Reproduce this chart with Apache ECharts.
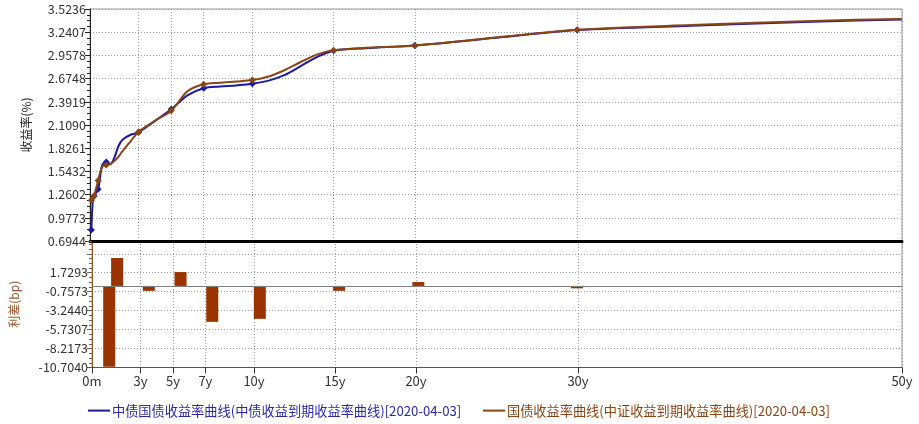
<!DOCTYPE html>
<html>
<head>
<meta charset="utf-8">
<script src="https://cdn.jsdelivr.net/npm/echarts@6/dist/echarts.min.js"></script>
<style>
html,body{margin:0;padding:0;background:#fff;}
#chart{width:919px;height:424px;}
</style>
</head>
<body>
<div id="chart"></div>
<script>
// ---- data ----
const blueName = '中债国债收益率曲线(中债收益到期收益率曲线)[2020-04-03]';
const brownName = '国债收益率曲线(中证收益到期收益率曲线)[2020-04-03]';
const maturities  = [0.083, 0.167, 0.25, 0.5, 0.75, 1, 1.25, 1.5, 1.75, 2, 2.5, 3, 4, 5, 6, 7, 8, 9, 10, 11, 12, 13, 14, 15, 17, 20, 25, 30, 37, 45, 50];
const blueYields  = [0.83, 1.17, 1.24, 1.325, 1.62, 1.657, 1.635, 1.71, 1.85, 1.93, 1.99, 2.020, 2.16, 2.300, 2.47, 2.557, 2.578, 2.592, 2.612, 2.65, 2.72, 2.83, 2.94, 3.015, 3.046, 3.080, 3.172, 3.267, 3.320, 3.372, 3.396];
const brownYields = [1.19, 1.22, 1.245, 1.432, 1.60, 1.621, 1.63, 1.67, 1.72, 1.79, 1.91, 2.028, 2.16, 2.282, 2.52, 2.605, 2.625, 2.640, 2.657, 2.70, 2.78, 2.88, 2.97, 3.022, 3.050, 3.076, 3.176, 3.270, 3.328, 3.381, 3.402];
const markerMaturities = [0.083, 0.25, 0.5, 1, 3, 5, 7, 10, 15, 20, 30];
const spreadMaturities = [0.5, 1, 3, 5, 7, 10, 15, 20, 30];
const spreadValues     = [-10.6, 3.66, -0.64, 1.82, -4.71, -4.32, -0.64, 0.51, -0.32];
const xTickValues = [0, 3, 5, 7, 10, 15, 20, 30, 50];
const xTickLabels = ['0m', '3y', '5y', '7y', '10y', '15y', '20y', '30y', '50y'];
const yieldTickLabels  = ['0.6944', '0.9773', '1.2602', '1.5432', '1.8261', '2.1090', '2.3919', '2.6748', '2.9578', '3.2407', '3.5236'];
const spreadTickLabels = ['-10.7040', '-8.2173', '-5.7307', '-3.2440', '-0.7573', '1.7293', ''];
const spreadMax = 5.895;

// ---- derived ----
const FONT = 'Noto Sans CJK SC';
const yMin = parseFloat(yieldTickLabels[0]);
const yMax = parseFloat(yieldTickLabels[yieldTickLabels.length - 1]);
const yInt = (yMax - yMin) / (yieldTickLabels.length - 1);
const sMin = parseFloat(spreadTickLabels[0]);
const sInt = (parseFloat(spreadTickLabels[5]) - sMin) / 5;

function lineData(ys) {
  return maturities.map((t, i) => ({
    value: [t, ys[i]],
    symbol: markerMaturities.indexOf(t) >= 0 ? 'diamond' : 'none'
  }));
}
function xLabel(v) {
  const i = xTickValues.indexOf(v);
  return i >= 0 ? xTickLabels[i] : '';
}
const dotted = { show: true, lineStyle: { color: '#9a9a9a', type: [1, 2], width: 1 } };

const chart = echarts.init(document.getElementById('chart'), null, { renderer: 'canvas' });
chart.setOption({
  animation: false,
  backgroundColor: '#ffffff',
  textStyle: { fontFamily: FONT },
  grid: [
    { left: 90, right: 17, top: 9, height: 232, show: true, borderColor: '#9a9a9a', borderWidth: 1, containLabel: false },
    { left: 90, right: 17, top: 241, height: 126.5, show: true, borderColor: '#9a9a9a', borderWidth: 1, containLabel: false }
  ],
  legend: [
    { left: 83, top: 399, icon: 'rect', itemWidth: 22, itemHeight: 2, itemGap: 0,
      textStyle: { fontFamily: FONT, fontSize: 13.2, color: '#2a2aa8', padding: [0, 0, 0, -3] },
      data: [{ name: blueName }] },
    { left: 478, top: 399, icon: 'rect', itemWidth: 22, itemHeight: 2, itemGap: 0,
      textStyle: { fontFamily: FONT, fontSize: 13.2, color: '#8b4513', padding: [0, 0, 0, -3] },
      data: [{ name: brownName }] }
  ],
  xAxis: [
    { type: 'value', gridIndex: 0, min: 0, max: 50, position: 'bottom',
      axisLine: { show: true, onZero: false, lineStyle: { color: '#000', width: 3 } },
      axisTick: { show: false, customValues: xTickValues },
      axisLabel: { show: false, customValues: xTickValues },
      splitLine: dotted },
    { type: 'value', gridIndex: 1, min: 0, max: 50, position: 'bottom',
      axisLine: { show: true, onZero: false, lineStyle: { color: '#555', width: 1 } },
      axisTick: { show: true, length: 6, customValues: xTickValues, lineStyle: { color: '#333' } },
      axisLabel: { show: true, customValues: xTickValues, formatter: xLabel, fontSize: 13, color: '#333', margin: 7, fontFamily: FONT },
      splitLine: dotted },
    { type: 'value', gridIndex: 1, min: -0.585, max: 50.51, show: false, splitLine: { show: false } }
  ],
  yAxis: [
    { type: 'value', gridIndex: 0, min: yMin, max: yMax, interval: yInt,
      name: '收益率(%)', nameLocation: 'middle', nameGap: 58, nameRotate: 90,
      nameTextStyle: { fontSize: 12, color: '#222', fontFamily: FONT },
      axisLine: { show: true, lineStyle: { color: '#222' } },
      axisTick: { show: true, length: 5, lineStyle: { color: '#222' } },
      minorTick: { show: true, splitNumber: 4, length: 3, lineStyle: { color: '#222' } },
      axisLabel: { fontSize: 12.5, color: '#333', margin: 4, fontFamily: FONT,
        formatter: v => yieldTickLabels[Math.round((v - yMin) / yInt)] || '' },
      splitLine: dotted },
    { type: 'value', gridIndex: 1, min: sMin, max: spreadMax, interval: sInt,
      name: '利差(bp)', nameLocation: 'middle', nameGap: 72, nameRotate: 90,
      nameTextStyle: { fontSize: 12, color: '#a0522d', fontFamily: FONT },
      axisLine: { show: true, lineStyle: { color: '#8b5a2b' } },
      axisTick: { show: true, length: 5, lineStyle: { color: '#8b5a2b' } },
      minorTick: { show: true, splitNumber: 4, length: 3, lineStyle: { color: '#8b5a2b' } },
      axisLabel: { fontSize: 12.5, color: '#333', margin: 4, fontFamily: FONT,
        formatter: v => {
          const i = Math.round((v - sMin) / sInt);
          return Math.abs(sMin + i * sInt - v) < 1e-6 ? (spreadTickLabels[i] || '') : '';
        } },
      splitLine: dotted }
  ],
  series: [
    { name: blueName, type: 'line', xAxisIndex: 0, yAxisIndex: 0,
      data: lineData(blueYields), smooth: 0.3,
      symbolSize: 7, showSymbol: true,
      lineStyle: { color: '#1a1aa6', width: 2 }, itemStyle: { color: '#1a1aa6' }, z: 3 },
    { name: brownName, type: 'line', xAxisIndex: 0, yAxisIndex: 0,
      data: lineData(brownYields), smooth: 0.3,
      symbolSize: 7, showSymbol: true,
      lineStyle: { color: '#8b4513', width: 2 }, itemStyle: { color: '#8b4513' }, z: 4 },
    { name: 'spread', type: 'bar', xAxisIndex: 2, yAxisIndex: 1,
      data: spreadMaturities.map((t, i) => [t, spreadValues[i]]),
      barWidth: 12, itemStyle: { color: '#993300' },
      markLine: { silent: true, symbol: 'none', label: { show: false },
        lineStyle: { color: '#808080', type: 'solid', width: 1 },
        data: [{ yAxis: 0 }] } }
  ]
});
</script>
</body>
</html>
